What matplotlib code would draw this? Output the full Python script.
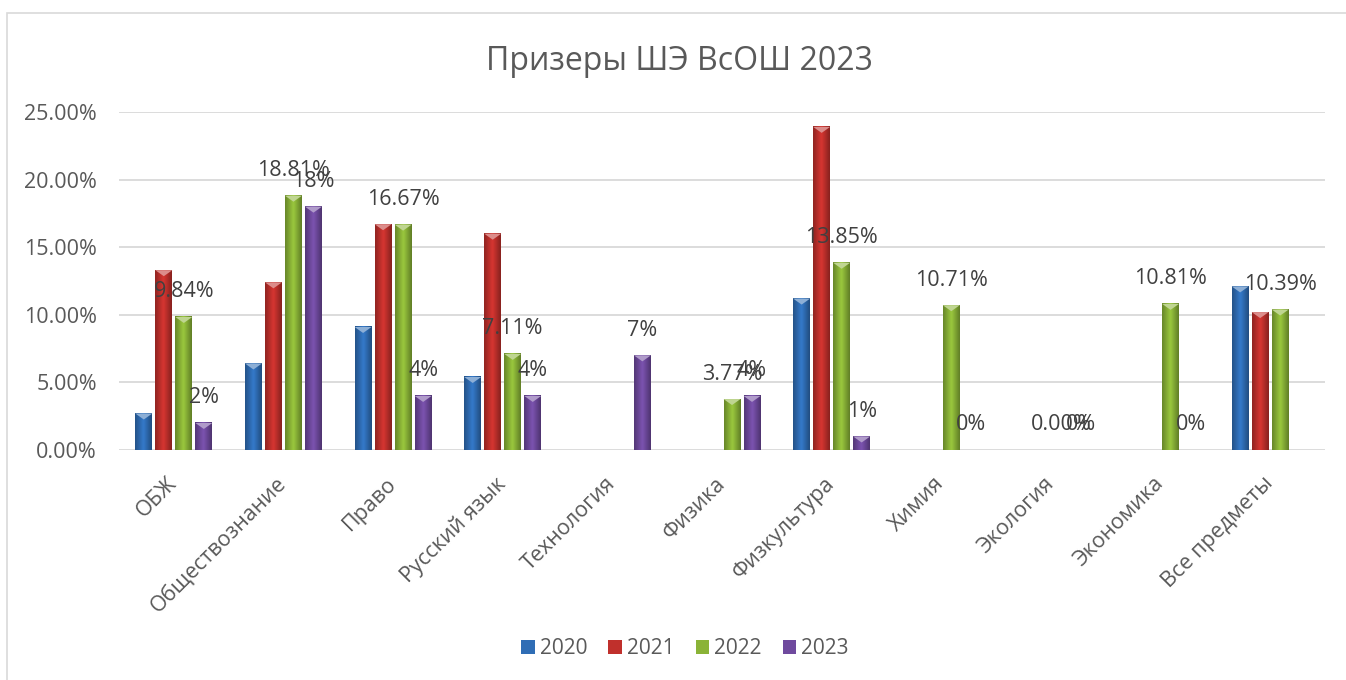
import numpy as np
import matplotlib
matplotlib.use("Agg")
import matplotlib.pyplot as plt
from matplotlib.patches import Polygon, Rectangle
from matplotlib.colors import LinearSegmentedColormap, to_rgb
from matplotlib.ticker import FuncFormatter

plt.rcParams["font.family"] = ["Open Sans", "DejaVu Sans"]

categories = ["ОБЖ", "Обществознание", "Право", "Русский язык", "Технология",
              "Физика", "Физкультура", "Химия", "Экология", "Экономика",
              "Все предметы"]
years = ["2020", "2021", "2022", "2023"]
nan = np.nan
v2020 = [2.7, 6.4, 9.1, 5.4, nan, nan, 11.2, nan, nan, nan, 12.1]
v2021 = [13.3, 12.4, 16.7, 16.0, nan, nan, 23.9, nan, nan, nan, 10.2]
v2022 = [9.84, 18.81, 16.67, 7.11, nan, 3.77, 13.85, 10.71, 0.00, 10.81, 10.39]
v2023 = [2, 18, 4, 4, 7, 4, 1, 0, 0, 0, nan]
series = [v2020, v2021, v2022, v2023]
colors = ["#2f6db5", "#c0302c", "#8ab337", "#6f4a9e"]
label_fmt = [None, None, "{:.2f}%", "{:.0f}%"]

text_col = "#595959"

fig = plt.figure(figsize=(13.46, 6.8), dpi=100)
ax = fig.add_axes([119 / 1346, 1 - 450 / 680, (1325 - 119) / 1346, (450 - 112) / 680])

# рамка диаграммы
fig.patches.append(Rectangle((7 / 1346, -0.1), 1.2, 1 - 13 / 680 + 0.1,
                             transform=fig.transFigure, fill=False,
                             edgecolor="#d9d9d9", linewidth=1.2))

x = np.arange(len(categories))
step = 0.1825
width = 0.155
px = 25 / 338  # один пиксель по оси y

for i, (vals, col) in enumerate(zip(series, colors)):
    pos = x + (i - 1.5) * step
    vals = np.array(vals, dtype=float)
    bars = ax.bar(pos, np.nan_to_num(vals), width, color=col, label=years[i],
                  edgecolor="none", zorder=2)
    base = np.array(to_rgb(col))
    cmap = LinearSegmentedColormap.from_list(
        "g", [base * 0.75, np.minimum(base * 1.12, 1), base * 0.7])
    grad = np.linspace(0, 1, 64).reshape(1, -1)
    light = tuple(np.minimum(base + (1 - base) * 0.45, 1))
    for b, v in zip(bars, vals):
        if np.isnan(v):
            b.set_visible(False)
            continue
        x0, w, h = b.get_x(), b.get_width(), b.get_height()
        if h > 0:
            ax.imshow(grad, extent=[x0, x0 + w, 0, h], aspect="auto",
                      cmap=cmap, zorder=3, interpolation="bicubic")
            ax.add_patch(Polygon([(x0, h), (x0 + w, h), (x0 + w / 2, h - 6 * px)],
                                 closed=True, facecolor=light, edgecolor="none",
                                 zorder=4))
        if label_fmt[i]:
            ax.annotate(label_fmt[i].format(v), (x0 + w / 2, h),
                        xytext=(0, 18), textcoords="offset points",
                        ha="center", va="center", fontsize=15.5,
                        color="#404040", zorder=5)

ax.set_xlim(-0.5, len(categories) - 0.5)
ax.set_ylim(0, 25)
ax.set_yticks(np.arange(0, 26, 5))
ax.yaxis.set_major_formatter(FuncFormatter(lambda v, p: f"{v:.2f}%"))
ax.grid(axis="y", color="#d9d9d9", linewidth=1.3, zorder=0)
ax.set_axisbelow(True)
for s in ax.spines.values():
    s.set_visible(False)
ax.tick_params(axis="both", length=0, labelsize=15.5, labelcolor=text_col)
ax.tick_params(axis="y", pad=16)
ax.set_xticks(x)
ax.set_xticklabels(categories, rotation=45, ha="right", va="center",
                   rotation_mode="anchor")
ax.tick_params(axis="x", pad=22)

fig.text(0.505, 1 - 61 / 680, "Призеры ШЭ ВсОШ 2023", ha="center", va="center",
         fontsize=23, color=text_col)

handles = [Rectangle((0, 0), 1, 1, facecolor=c) for c in colors]
fig.legend(handles, years, loc="center", bbox_to_anchor=(0.509, 1 - 649 / 680),
           ncol=4, frameon=False, fontsize=15, labelcolor=text_col,
           handlelength=0.65, handleheight=0.65, handletextpad=0.25,
           columnspacing=1.0)

fig.savefig("out.png", dpi=100)
